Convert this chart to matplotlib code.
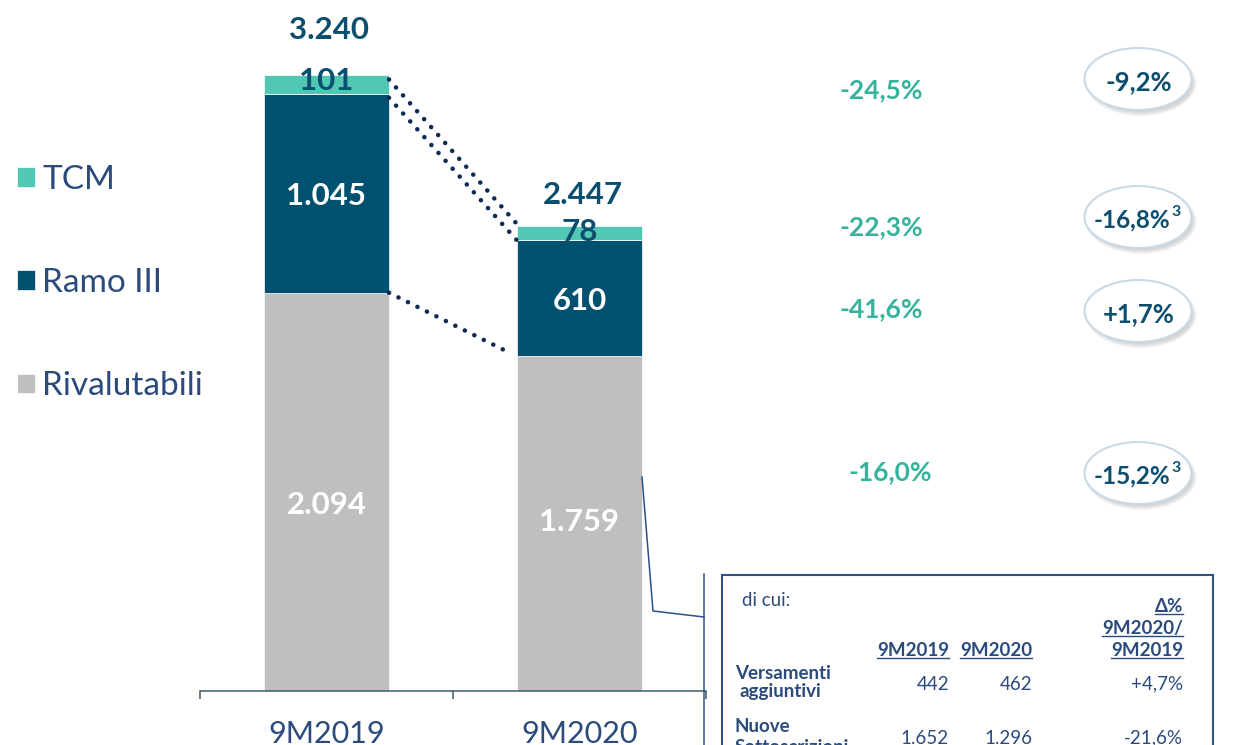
import matplotlib
matplotlib.use("Agg")
import matplotlib.pyplot as plt
from matplotlib.patches import Ellipse, Rectangle
import numpy as np

# ---------------- data ----------------
periods = ["9M2019", "9M2020"]
series_names = ["TCM", "Ramo III", "Rivalutabili"]
rivalutabili = [2094, 1759]
ramo_iii = [1045, 610]
tcm = [101, 78]
totals = [3240, 2447]

seg_changes = ["-24,5%", "-22,3%", "-41,6%", "-16,0%"]
bubble_changes = ["-9,2%", "-16,8%", "+1,7%", "-15,2%"]
bubble_notes = ["", "3", "", "3"]

table_title = "di cui:"
table_cols = ["9M2019", "9M2020"]
table_delta_head = ["Δ%", "9M2020/", "9M2019"]
table_rows = [["Versamenti", "aggiuntivi"], ["Nuove", "Sottoscrizioni"]]
table_2019 = ["442", "1.652"]
table_2020 = ["462", "1.296"]
table_delta = ["+4,7%", "-21,6%"]


def fmt(v):
    return f"{v:,}".replace(",", ".")


# ---------------- style ----------------
plt.rcParams["font.family"] = ["Lato", "DejaVu Sans"]
W, H = 1245, 745
C_RIV, C_RAMO, C_TCM = "#bfbfbf", "#00506f", "#50c8b4"
C_DARK = "#0b4e6e"
C_BLUE = "#2a4b7c"
C_TEAL = "#36b39d"
C_DOT = "#0d2a55"
C_AXIS = "#3d5a6b"

fig = plt.figure(figsize=(W / 100, H / 100), dpi=100)
ax = fig.add_axes([200 / W, 54 / H, 506 / W, 691 / H])
ax.set_zorder(1)
ov = fig.add_axes([0, 0, 1, 1])
ov.set_zorder(2)
ov.set_xlim(0, W)
ov.set_ylim(H, 0)
ov.axis("off")
ov.patch.set_alpha(0)

# ---------------- bars ----------------
x = np.arange(len(periods))
bw = 0.494
b_riv = ax.bar(x, rivalutabili, bw, color=C_RIV, edgecolor="white", linewidth=0.5,
               label=series_names[2])
b_ramo = ax.bar(x, ramo_iii, bw, bottom=rivalutabili, color=C_RAMO, edgecolor="white",
                linewidth=0.5, label=series_names[1])
bottom_tcm = np.add(rivalutabili, ramo_iii)
b_tcm = ax.bar(x, tcm, bw, bottom=bottom_tcm, color=C_TCM, edgecolor="white",
               linewidth=0.5, label=series_names[0])

ax.set_xlim(-0.5, 1.5)
ax.set_ylim(0, 691 / 0.1902)
ax.set_yticks([])
for s in ["top", "left", "right"]:
    ax.spines[s].set_visible(False)
ax.spines["bottom"].set_color(C_AXIS)
ax.spines["bottom"].set_linewidth(1.1)
ax.set_xticks(x, periods)
ax.set_xticks([-0.5, 0.5, 1.5], minor=True)
ax.tick_params(axis="x", which="major", length=0, pad=21, labelsize=22, labelcolor=C_BLUE)
ax.tick_params(axis="x", which="minor", length=6, width=1.1, color=C_AXIS, direction="out")

big = dict(fontsize=22.5, fontweight="bold", ha="center", va="center_baseline",
           textcoords="offset pixels", annotation_clip=False)
riv_off = [-11, 4]
tot_off = [47, 33]
for i in range(len(periods)):
    ax.annotate(fmt(rivalutabili[i]), (x[i], rivalutabili[i] / 2), xytext=(0, riv_off[i]),
                color="white", **big)
    ax.annotate(fmt(ramo_iii[i]), (x[i], rivalutabili[i] + ramo_iii[i] / 2), xytext=(0, 0),
                color="white", **big)
    ax.annotate(fmt(tcm[i]), (x[i], totals[i]), xytext=(0, -4), color=C_DARK, **big)
    ax.annotate(fmt(totals[i]), (x[i], totals[i]), xytext=(3, tot_off[i]), color=C_DARK, **big)

# dotted connectors between the bars
e = bw / 2
dot = dict(color=C_DOT, lw=3.3, linestyle=(0, (0.01, 2.3)), dash_capstyle="round",
           clip_on=False, zorder=3)
ax.plot([x[0] + e, x[1] - e], [totals[0] - 25, totals[1] + 8], **dot)
ax.plot([x[0] + e, x[1] - e], [bottom_tcm[0] - 20, bottom_tcm[1]], **dot)
frac = 0.96
ax.plot([x[0] + e, x[0] + e + frac * (x[1] - x[0] - 2 * e)],
        [rivalutabili[0], rivalutabili[0] + frac * (rivalutabili[1] - rivalutabili[0])], **dot)

# legend
fig.legend(handles=[b_tcm, b_ramo, b_riv], labels=series_names, loc="center left",
           bbox_to_anchor=(17 / W, 1 - 283 / H), bbox_transform=fig.transFigure,
           frameon=False, fontsize=24, handlelength=0.54, handleheight=0.54,
           handletextpad=0.22, labelspacing=2.2, borderpad=0, borderaxespad=0,
           labelcolor=C_BLUE)

# ---------------- percentage changes ----------------
seg_y = [88, 225, 307, 470]
seg_x = [881, 881, 881, 890]
for xx, yy, t in zip(seg_x, seg_y, seg_changes):
    ov.text(xx, yy, t, color=C_TEAL, fontsize=19, fontweight="bold", ha="center",
            va="center_baseline")

bub_y = [79, 217, 311, 473]
for yy, t, n in zip(bub_y, bubble_changes, bubble_notes):
    for k in range(5):
        ov.add_patch(Ellipse((1141, yy + 4), 103 + 2 * k, 58 + 2 * k, fc="#7a7a7a",
                             ec="none", alpha=0.07))
    ov.add_patch(Ellipse((1138, yy), 107, 62, fc="white", ec="#c9d9e6", lw=1.5))
    if n:
        tt = ov.text(1132, yy + 1, t, color=C_DARK, fontsize=17.5, fontweight="bold",
                     ha="center", va="center_baseline")
        fig.canvas.draw()
        bb = tt.get_window_extent(fig.canvas.get_renderer())
        ov.text(bb.x1 + 1, yy - 6, n, color=C_DARK, fontsize=11.5, fontweight="bold",
                ha="left", va="center_baseline")
    else:
        ov.text(1139, yy + 1, t, color=C_DARK, fontsize=18.5, fontweight="bold",
                ha="center", va="center_baseline")

# ---------------- callout + table ----------------
ov.plot([642, 653, 704], [477, 611, 617], color="#2c4f88", lw=1.1)
ov.plot([704, 704], [574, 760], color="#2c4f88", lw=1.1)
ov.add_patch(Rectangle((722, 575), 491, 250, fc="white", ec="#2e5283", lw=1.5))

tkw = dict(color=C_BLUE, fontsize=13.5, va="baseline")
ov.text(742, 605.5, table_title, **tkw)
under = []
for lbl, yy in zip(table_delta_head, [612, 634, 656]):
    under.append((ov.text(1183, yy, lbl, ha="right", fontweight="bold", **tkw), yy))
for lbl, xr in zip(table_cols, [949, 1032]):
    under.append((ov.text(xr, 656, lbl, ha="right", fontweight="bold", **tkw), 656))

row_base = [679, 732]
val_base = [689.5, 743.5]
for i in range(len(table_rows)):
    ov.text(735, row_base[i], table_rows[i][0], fontweight="bold", **tkw)
    ov.text(740 if i == 0 else 735, row_base[i] + 18 + 3 * i, table_rows[i][1],
            fontweight="bold", **tkw)
    ov.text(949, val_base[i], table_2019[i], ha="right", **tkw)
    ov.text(1032, val_base[i], table_2020[i], ha="right", **tkw)
    ov.text(1183, val_base[i], table_delta[i], ha="right", **tkw)

fig.canvas.draw()
r = fig.canvas.get_renderer()
for t, yy in under:
    bb = t.get_window_extent(r)
    ov.plot([bb.x0, bb.x1], [yy + 2, yy + 2], color=C_BLUE, lw=1.0)

fig.savefig("out.png", dpi=100)
